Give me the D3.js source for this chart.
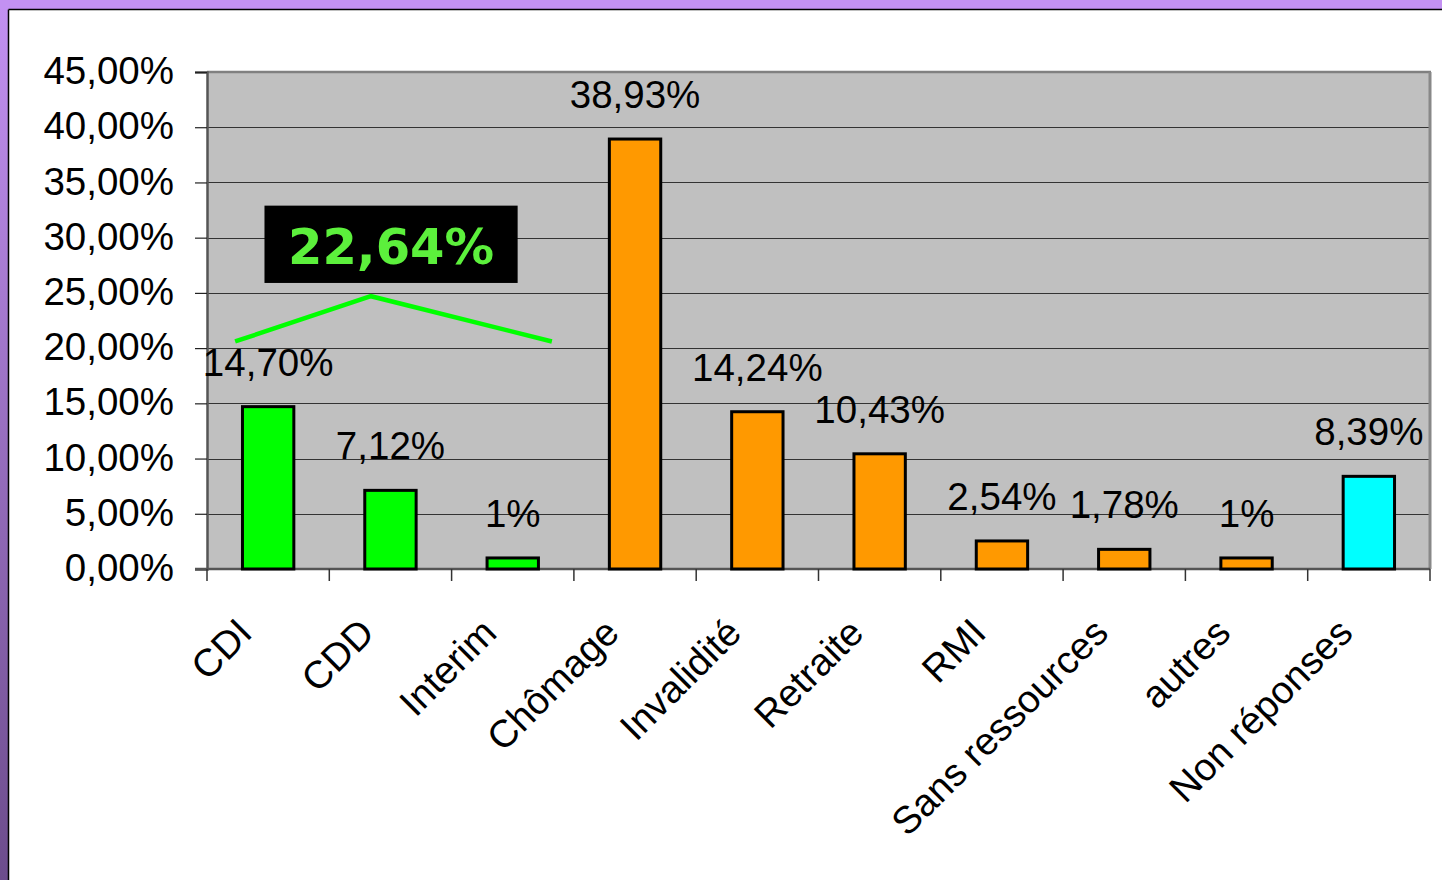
<!DOCTYPE html>
<html>
<head>
<meta charset="utf-8">
<script src="https://cdn.jsdelivr.net/npm/d3@7"></script>
<style>
  html, body { margin: 0; padding: 0; background: #fff; }
  svg { display: block; }
</style>
</head>
<body>
<svg id="chart" width="1442" height="880"></svg>
<script>
// Répartition par situation professionnelle
const categories = ["CDI", "CDD", "Interim", "Chômage", "Invalidité", "Retraite", "RMI", "Sans ressources", "autres", "Non réponses"];
const values = [14.70, 7.12, 1, 38.93, 14.24, 10.43, 2.54, 1.78, 1, 8.39];
const valueLabels = ["14,70%", "7,12%", "1%", "38,93%", "14,24%", "10,43%", "2,54%", "1,78%", "1%", "8,39%"];
const groups = ["emploi", "emploi", "emploi", "sans", "sans", "sans", "sans", "sans", "sans", "nr"];
const yTicks = [0, 5, 10, 15, 20, 25, 30, 35, 40, 45];
const yTickLabels = ["0,00%", "5,00%", "10,00%", "15,00%", "20,00%", "25,00%", "30,00%", "35,00%", "40,00%", "45,00%"];

// Total for the "emploi" group, with its bracket (x as category index, y in %)
const groupTotalLabel = "22,64%";
const bracketX = [0.23, 1.34, 2.82];
const bracketY = [20.6, 24.7, 20.6];
const totalBox = { x0: 0.47, x1: 2.54, y0: 25.9, y1: 32.9 };

const colors = { emploi: "#00ff00", sans: "#ff9900", nr: "#00ffff" };

const svg = d3.select("#chart");
const W = 1442, H = 880;

// Slide frame: lavender top band and a darker purple gradient down the left side
const defs = svg.append("defs");
const grad = defs.append("linearGradient").attr("id", "sideGrad")
  .attr("x1", 0).attr("y1", 0).attr("x2", 0).attr("y2", 1);
grad.append("stop").attr("offset", "0%").attr("stop-color", "#c391f2");
grad.append("stop").attr("offset", "100%").attr("stop-color", "#6c4c8c");

svg.append("rect").attr("x", 0).attr("y", 0).attr("width", W).attr("height", H).attr("fill", "#fff");
svg.append("rect").attr("x", 0).attr("y", 0).attr("width", 8).attr("height", H).attr("fill", "url(#sideGrad)");
svg.append("rect").attr("x", 0).attr("y", 0).attr("width", W).attr("height", 9).attr("fill", "#c391f2");
svg.append("line").attr("x1", 8.5).attr("x2", W).attr("y1", 9.5).attr("y2", 9.5).attr("stroke", "#000").attr("stroke-width", 1.5);
svg.append("line").attr("x1", 8.5).attr("x2", 8.5).attr("y1", 9.5).attr("y2", H).attr("stroke", "#000").attr("stroke-width", 1.5);

const plot = { left: 207, right: 1430, top: 72, bottom: 569 };

const x = d3.scaleBand().domain(categories)
  .range([plot.left, plot.right]).paddingInner(0.58).paddingOuter(0.29);
const xi = d3.scaleLinear().domain([0, categories.length]).range([plot.left, plot.right]);
const y = d3.scaleLinear().domain([0, 45]).range([plot.bottom, plot.top]);

const labelFont = "'Liberation Sans', Arial, sans-serif";
const labelSize = 38.5;

// Plot area background
svg.append("rect")
  .attr("x", plot.left).attr("y", plot.top)
  .attr("width", plot.right - plot.left).attr("height", plot.bottom - plot.top)
  .attr("fill", "#c0c0c0");

// Gridlines
svg.append("g").selectAll("line").data(yTicks.filter(t => t > 0 && t < 45)).join("line")
  .attr("x1", plot.left).attr("x2", plot.right)
  .attr("y1", d => Math.round(y(d)) + 0.5).attr("y2", d => Math.round(y(d)) + 0.5)
  .attr("stroke", "#333").attr("stroke-width", 1);

// Plot frame: grey top and right edges
svg.append("line").attr("x1", plot.left).attr("x2", plot.right + 1)
  .attr("y1", plot.top).attr("y2", plot.top).attr("stroke", "#808080").attr("stroke-width", 2.5);
svg.append("line").attr("x1", plot.right).attr("x2", plot.right)
  .attr("y1", plot.top).attr("y2", plot.bottom).attr("stroke", "#888").attr("stroke-width", 3);

// Y axis
const yAxis = d3.axisLeft(y).tickValues(yTicks).tickSize(12).tickPadding(21)
  .tickFormat((d, i) => yTickLabels[i]);
const gy = svg.append("g").attr("transform", `translate(${plot.left},0)`).call(yAxis);
gy.select(".domain").attr("stroke", "#555").attr("stroke-width", 2.5);
gy.selectAll(".tick line").attr("stroke", "#222").attr("stroke-width", 1.2);
gy.selectAll(".tick text").attr("font-family", labelFont).attr("font-size", labelSize).attr("fill", "#000")
  .attr("dy", "0.3em");

// X axis line and category boundary ticks
svg.append("line").attr("x1", plot.left - 12).attr("x2", plot.right)
  .attr("y1", plot.bottom).attr("y2", plot.bottom).attr("stroke", "#555").attr("stroke-width", 2.5);
svg.append("g").selectAll("line").data(d3.range(categories.length + 1)).join("line")
  .attr("x1", d => xi(d)).attr("x2", d => xi(d))
  .attr("y1", plot.bottom).attr("y2", plot.bottom + 12)
  .attr("stroke", "#333").attr("stroke-width", 1.5);

// Category labels, rotated
svg.append("g").selectAll("text").data(categories).join("text")
  .attr("transform", d => `translate(${x(d) + x.bandwidth() / 2 - 14},${plot.bottom + 66}) rotate(-45)`)
  .attr("text-anchor", "end")
  .attr("font-family", labelFont).attr("font-size", labelSize).attr("fill", "#000")
  .text(d => d);

// Bars
svg.append("g").selectAll("rect").data(categories).join("rect")
  .attr("x", d => x(d)).attr("width", x.bandwidth())
  .attr("y", (d, i) => y(values[i]))
  .attr("height", (d, i) => y(0) - y(values[i]))
  .attr("fill", (d, i) => colors[groups[i]])
  .attr("stroke", "#000").attr("stroke-width", 3);

// Value labels
svg.append("g").selectAll("text").data(categories).join("text")
  .attr("x", d => x(d) + x.bandwidth() / 2)
  .attr("y", (d, i) => y(values[i]) - 31)
  .attr("text-anchor", "middle")
  .attr("font-family", labelFont).attr("font-size", labelSize).attr("fill", "#000")
  .text((d, i) => valueLabels[i]);

// Bracket over the employment group
svg.append("path")
  .datum(bracketX.map((bx, i) => [xi(bx), y(bracketY[i])]))
  .attr("d", d3.line())
  .attr("fill", "none").attr("stroke", "#00ff00").attr("stroke-width", 4.5);

// Group total
svg.append("rect")
  .attr("x", xi(totalBox.x0)).attr("y", y(totalBox.y1))
  .attr("width", xi(totalBox.x1) - xi(totalBox.x0))
  .attr("height", y(totalBox.y0) - y(totalBox.y1))
  .attr("fill", "#000");
svg.append("text")
  .attr("x", (xi(totalBox.x0) + xi(totalBox.x1)) / 2)
  .attr("y", y(totalBox.y0) - 19)
  .attr("text-anchor", "middle")
  .attr("font-family", "'DejaVu Sans', Verdana, sans-serif").attr("font-weight", "bold")
  .attr("font-size", 49.5).attr("fill", "#5cf03c")
  .text(groupTotalLabel);
</script>
</body>
</html>
